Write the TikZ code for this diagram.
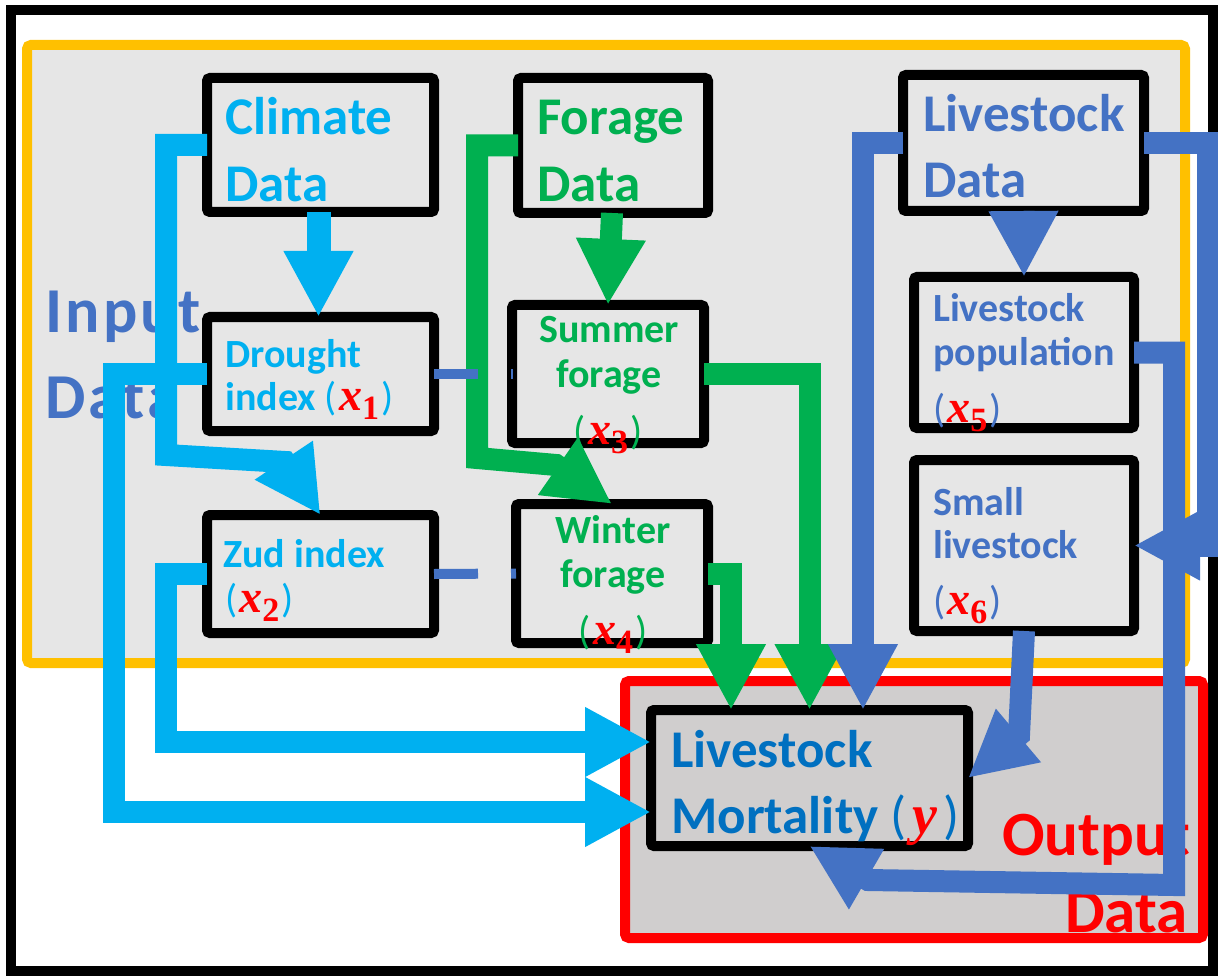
\documentclass[tikz,border=0pt]{standalone}
\usepackage{fontspec}
\usepackage{graphicx}
\setmainfont{Carlito}
\newfontfamily\xserif{Liberation Serif}
\usetikzlibrary{arrows.meta,calc}
\definecolor{cyanA}{HTML}{00B0F0}
\definecolor{greenA}{HTML}{00B050}
\definecolor{blueA}{HTML}{4472C4}
\definecolor{blueB}{HTML}{0070C0}
\definecolor{yellowA}{HTML}{FFC000}
\definecolor{redA}{HTML}{FF0000}
\definecolor{grayA}{HTML}{E6E6E6}
\definecolor{grayB}{HTML}{D0CECE}
\newcommand{\xv}[1]{{\mdseries(}\hspace{2pt}\textcolor{redA}{{\xserif\bfseries\itshape\fontsize{46}{46}\selectfont x}\raisebox{-9pt}{\xserif\bfseries\fontsize{34}{34}\selectfont #1}}\hspace{2pt}{\mdseries)}}
\newcommand{\yv}{{\mdseries(}\hspace{6pt}\textcolor{redA}{{\xserif\bfseries\itshape\fontsize{56}{56}\selectfont y}}\hspace{6pt}{\mdseries)}}
\tikzset{
  bx/.style={draw=black, line width=10pt, rounded corners=3pt, inner sep=0pt, outer sep=0pt, rectangle},
  tb/.style={anchor=base west, inner sep=0pt, font=\fontsize{53}{53}\selectfont\bfseries},
  ts/.style={anchor=base west, inner sep=0pt, font=\fontsize{40}{40}\selectfont\bfseries},
  tsc/.style={anchor=base, inner sep=0pt, font=\fontsize{40}{40}\selectfont\bfseries},
  tin/.style={anchor=base west, inner sep=0pt, text=blueA, font=\fontsize{64}{64}\selectfont\bfseries\addfontfeature{LetterSpace=5}},
  tout/.style={anchor=base east, inner sep=0pt, text=redA, font=\fontsize{63}{63}\selectfont\bfseries},
  arr/.style={line width=22pt, line join=miter, -{Triangle[length=66pt 0 0, width=65pt 0 0]}},
  dsh/.style={blueA, line width=10pt, dash pattern=on 44pt off 33pt}
}
\begin{document}
\begin{tikzpicture}[x=1pt,y=-1pt]
\useasboundingbox (0,0) rectangle (1218,976);
\fill[white] (0,0) rectangle (1218,976);
% frame
\draw[line width=10pt] (11,10) rectangle (1213,971);
% input / output areas
\draw[yellowA, fill=grayA, line width=10pt, rounded corners=4pt] (27,45) rectangle (1185,663);
\draw[redA, fill=grayB, line width=10pt, rounded corners=4pt] (625,681) rectangle (1203,938);
% area titles
\node[tin] (inA) at (45,333) {Input};
\node[tin] (inB) at (45,418) {Data};
\node[tout] (outA) at (1190,855) {Output};
\node[tout] (outB) at (1188,932) {Data};
% boxes
\node[bx, minimum width=227pt, minimum height=134pt] (climate) at (320.5,145) {};
\node[bx, minimum width=227pt, minimum height=114pt] (drought) at (320.5,374) {};
\node[bx, minimum width=227pt, minimum height=118pt] (zud) at (320.5,574) {};
\node[bx, minimum width=190pt, minimum height=135pt] (forage) at (613,145.5) {};
\node[bx, minimum width=192pt, minimum height=138pt] (summer) at (608,374) {};
\node[bx, minimum width=192pt, minimum height=139pt] (winter) at (612,573.5) {};
\node[bx, minimum width=241pt, minimum height=136pt] (ldata) at (1023.5,143) {};
\node[bx, minimum width=220pt, minimum height=151pt] (lpop) at (1024,352.5) {};
\node[bx, minimum width=220pt, minimum height=171pt] (small) at (1024,545.5) {};
\node[bx, minimum width=317pt, minimum height=136pt] (mort) at (809.5,778) {};
% box texts
\node[tb, text=cyanA] (climateA) at (225,135) {Climate};
\node[tb, text=cyanA] (climateB) at (225,202) {Data};
\node[tb, text=greenA] (forageA) at (537,135) {Forage};
\node[tb, text=greenA] (forageB) at (537,202) {Data};
\node[tb, text=blueA] (ldataA) at (923,132) {Livestock};
\node[tb, text=blueA] (ldataB) at (923,198) {Data};
\node[ts, text=cyanA] (droughtA) at (225,367) {Drought};
\node[ts, text=cyanA] (droughtB) at (225,410) {index \xv{1}};
\node[ts, text=cyanA] (zudA) at (223,567) {Zud index};
\node[ts, text=cyanA] (zudB) at (225,612) {\xv{2}};
\node[tsc, text=greenA] (summerA) at (609,342) {Summer};
\node[tsc, text=greenA] (summerB) at (609,387) {forage};
\node[tsc, text=greenA] (summerC) at (608,444) {\xv{3}};
\node[tsc, text=greenA] (winterA) at (613,543) {Winter};
\node[tsc, text=greenA] (winterB) at (613,587) {forage};
\node[tsc, text=greenA] (winterC) at (613,644) {\xv{4}};
\node[ts, text=blueA] (lpopA) at (933,322) {Livestock};
\node[ts, text=blueA] (lpopB) at (933,365) {population};
\node[ts, text=blueA] (lpopC) at (933,422) {\xv{5}};
\node[ts, text=blueA] (smallA) at (933,515) {Small};
\node[ts, text=blueA] (smallB) at (933,558) {livestock};
\node[ts, text=blueA] (smallC) at (933,614) {\xv{6}};
\node[tb, text=blueB] (mortA) at (671,767) {Livestock};
\node[tb, text=blueB] (mortB) at (671,833) {Mortality \yv};
% cyan arrows
\draw[arr, cyanA, line width=24pt] ($(climate.south)+(-2,0)$) -- ($(drought.north)+(-2,0)$);
\draw[arr, cyanA] (climate.west) -- (166,145) -- (166,455) -- (285,462) -- (zud.north);
\draw[arr, cyanA] (drought.west) -- (114,374) -- (114,812) -- ($(mort.west)+(0,34)$);
\draw[arr, cyanA] (zud.west) -- (166,574) -- (166,742) -- ($(mort.west)+(0,-36)$);
% green arrows
\draw[arr, greenA] ($(forage.south)+(-1,0)$) -- (summer.north);
\draw[arr, greenA] (forage.west) -- (477,145.5) -- (477,458) -- (556,465) -- (winter.north);
\draw[arr, greenA] (summer.east) -| (mort.north);
\draw[arr, greenA] (winter.east) -| ($(mort.north)+(-78.5,0)$);
% blue arrows
\draw[arr, blueA] (ldata.south) -- (lpop.north);
\draw[arr, blueA] (ldata.west) -| ($(mort.north)+(53.5,0)$);
\draw[arr, blueA] (ldata.east) -- (1208,143) |- (small.east);
\draw[arr, blueA] (lpop.east) -- (1174,352.5) -- (1174,885) -- (868,880) -- (mort.south);
\draw[arr, blueA] (small.south) -- (1019,735) -- (mort.east);
% dashed links
\draw[dsh] (drought.east) -- ($(summer.west)+(1,0)$);
\draw[dsh] (zud.east) -- (winter.west);
\end{tikzpicture}
\end{document}
